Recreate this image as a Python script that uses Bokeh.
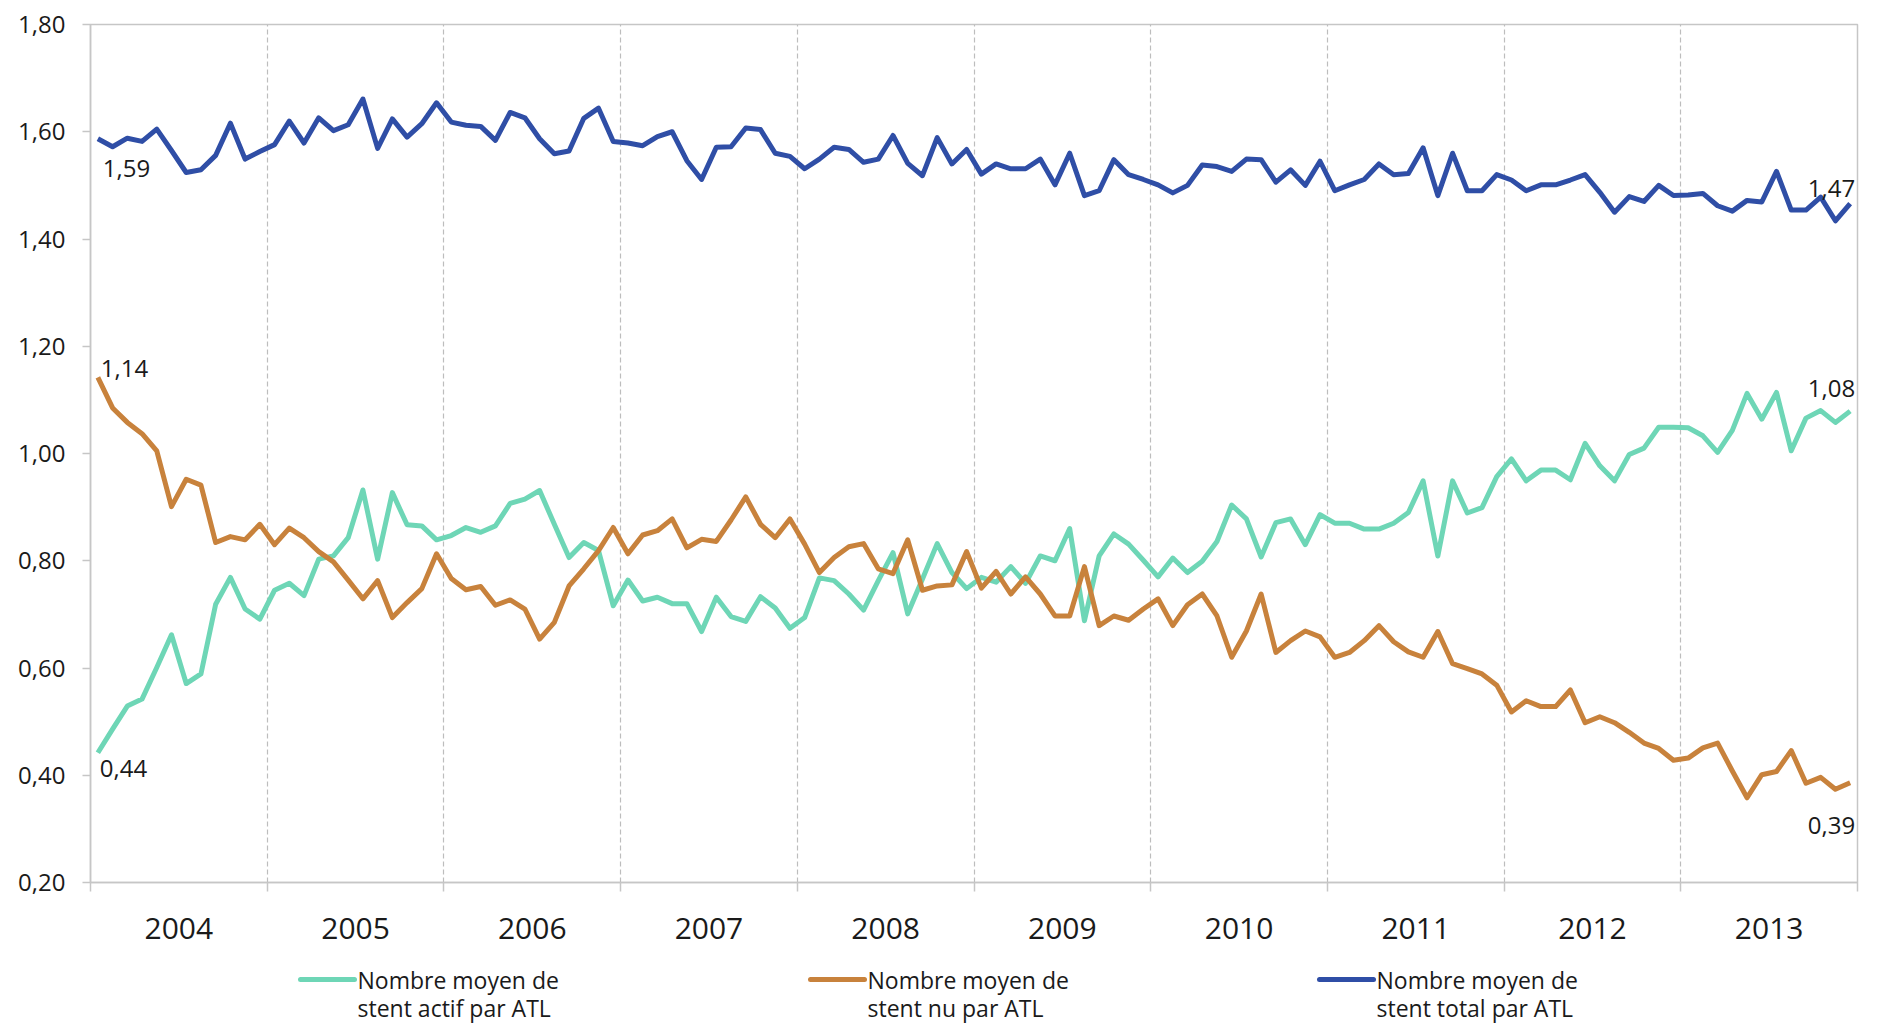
from bokeh.plotting import figure
from bokeh.layouts import column
from bokeh.models import (Range1d, FixedTicker, ColumnDataSource, LabelSet,
                          CustomJSTickFormatter)
from bokeh.core.properties import value
from bokeh.embed import file_html
from bokeh.resources import INLINE

# ---------------- data (monthly, Jan 2004 .. Dec 2013) ----------------
years = ["2004", "2005", "2006", "2007", "2008", "2009", "2010", "2011", "2012", "2013"]
months = list(range(120))

total = [1.587, 1.572, 1.588, 1.582, 1.605, 1.565, 1.524, 1.529, 1.556, 1.616,
         1.549, 1.563, 1.576, 1.620, 1.579, 1.626, 1.602, 1.613, 1.661, 1.569,
         1.624, 1.590, 1.615, 1.654, 1.618, 1.612, 1.610, 1.584, 1.636, 1.626,
         1.587, 1.559, 1.564, 1.625, 1.644, 1.582, 1.579, 1.574, 1.591, 1.600,
         1.546, 1.511, 1.571, 1.572, 1.607, 1.604, 1.560, 1.554, 1.531, 1.549,
         1.571, 1.567, 1.543, 1.549, 1.593, 1.541, 1.518, 1.589, 1.540, 1.567,
         1.521, 1.540, 1.531, 1.531, 1.549, 1.501, 1.560, 1.481, 1.490, 1.548,
         1.520, 1.511, 1.501, 1.486, 1.500, 1.538, 1.535, 1.526, 1.549, 1.548,
         1.506, 1.529, 1.500, 1.545, 1.490, 1.501, 1.511, 1.540, 1.520, 1.522,
         1.570, 1.481, 1.560, 1.490, 1.490, 1.520, 1.510, 1.490, 1.501, 1.501,
         1.510, 1.520, 1.487, 1.450, 1.479, 1.470, 1.500, 1.481, 1.482, 1.485,
         1.462, 1.452, 1.472, 1.469, 1.526, 1.454, 1.454, 1.478, 1.434, 1.466]

nu = [1.142, 1.085, 1.058, 1.037, 1.005, 0.901, 0.952, 0.941, 0.834, 0.845,
      0.839, 0.868, 0.830, 0.861, 0.843, 0.817, 0.798, 0.764, 0.729, 0.763,
      0.694, 0.722, 0.748, 0.813, 0.767, 0.746, 0.752, 0.717, 0.727, 0.710,
      0.654, 0.685, 0.753, 0.785, 0.819, 0.862, 0.813, 0.848, 0.856, 0.878,
      0.824, 0.840, 0.836, 0.876, 0.919, 0.868, 0.843, 0.878, 0.831, 0.778,
      0.806, 0.826, 0.832, 0.785, 0.776, 0.839, 0.745, 0.753, 0.755, 0.817,
      0.749, 0.780, 0.738, 0.770, 0.738, 0.697, 0.697, 0.789, 0.679, 0.697,
      0.689, 0.710, 0.729, 0.679, 0.718, 0.738, 0.697, 0.620, 0.669, 0.738,
      0.629, 0.651, 0.669, 0.658, 0.620, 0.629, 0.651, 0.679, 0.649, 0.630,
      0.620, 0.668, 0.608, 0.599, 0.589, 0.568, 0.518, 0.539, 0.528, 0.528,
      0.559, 0.498, 0.509, 0.498, 0.480, 0.460, 0.450, 0.428, 0.432, 0.451,
      0.460, 0.408, 0.358, 0.401, 0.407, 0.446, 0.385, 0.396, 0.374, 0.386]

actif = [0.442, 0.486, 0.529, 0.542, 0.601, 0.662, 0.571, 0.589, 0.719, 0.769,
         0.710, 0.691, 0.745, 0.758, 0.735, 0.803, 0.809, 0.843, 0.932, 0.803,
         0.927, 0.867, 0.865, 0.839, 0.847, 0.862, 0.853, 0.865, 0.907, 0.915,
         0.931, 0.868, 0.806, 0.834, 0.819, 0.716, 0.764, 0.725, 0.732, 0.720,
         0.720, 0.668, 0.732, 0.696, 0.687, 0.733, 0.712, 0.674, 0.694, 0.768,
         0.763, 0.738, 0.708, 0.763, 0.815, 0.701, 0.766, 0.832, 0.778, 0.748,
         0.769, 0.760, 0.789, 0.758, 0.809, 0.800, 0.860, 0.688, 0.809, 0.850,
         0.831, 0.801, 0.770, 0.805, 0.778, 0.799, 0.836, 0.904, 0.878, 0.807,
         0.871, 0.878, 0.830, 0.886, 0.870, 0.870, 0.859, 0.859, 0.870, 0.890,
         0.949, 0.809, 0.949, 0.889, 0.899, 0.957, 0.990, 0.949, 0.969, 0.969,
         0.951, 1.019, 0.977, 0.949, 0.998, 1.010, 1.049, 1.049, 1.048, 1.033,
         1.002, 1.043, 1.112, 1.064, 1.114, 1.005, 1.066, 1.080, 1.058, 1.079]

y_ticks = [0.2, 0.4, 0.6, 0.8, 1.0, 1.2, 1.4, 1.6, 1.8]
series_names = ["Nombre moyen de\nstent actif par ATL",
                "Nombre moyen de\nstent nu par ATL",
                "Nombre moyen de\nstent total par ATL"]

# ---------------- styling ----------------
FONT = "Open Sans"
TXT = "#1A1A1A"
GREY = "#C6C6C6"
C_ACTIF = "#6ED6B6"
C_NU = "#C8823C"
C_TOTAL = "#2F4EA6"
series_colors = [C_ACTIF, C_NU, C_TOTAL]

n = len(months)
year_centers = [12 * k + 5.5 for k in range(len(years))]
year_bounds = [12 * k - 0.5 for k in range(len(years) + 1)]

BL, BR = 90, 23   # left / right borders (px), shared by both strips

p = figure(width=1880, height=954,
           x_range=Range1d(-0.5, n - 0.5), y_range=Range1d(0.2, 1.8),
           output_backend="svg", toolbar_location=None,
           min_border_left=BL, min_border_right=BR, min_border_top=24,
           min_border_bottom=72)
p.outline_line_color = GREY
p.outline_line_width = 1.5
p.background_fill_color = "white"
p.border_fill_color = "white"

# y axis
p.yaxis.ticker = FixedTicker(ticks=y_ticks)
p.yaxis.formatter = CustomJSTickFormatter(code="return tick.toFixed(2).replace('.', ',');")
p.yaxis.major_tick_out = 8
p.yaxis.major_tick_in = 0
p.yaxis.minor_tick_out = 0
p.yaxis.minor_tick_in = 0
p.yaxis.axis_line_color = GREY
p.yaxis.axis_line_width = 1.5
p.yaxis.major_tick_line_color = GREY
p.yaxis.major_tick_line_width = 1.5
p.yaxis.major_label_text_font = FONT
p.yaxis.major_label_text_font_size = "24px"
p.yaxis.major_label_text_color = TXT
p.yaxis.major_label_standoff = 17

# x axis: labels at year centres, ticks at year bounds
p.xaxis.ticker = FixedTicker(ticks=year_centers, minor_ticks=year_bounds)
p.xaxis.major_label_overrides = {c: y for c, y in zip(year_centers, years)}
p.xaxis.major_tick_out = 0
p.xaxis.major_tick_in = 0
p.xaxis.minor_tick_out = 9
p.xaxis.minor_tick_in = 0
p.xaxis.minor_tick_line_color = GREY
p.xaxis.minor_tick_line_width = 1.5
p.xaxis.axis_line_color = GREY
p.xaxis.axis_line_width = 1.5
p.xaxis.major_label_text_font = FONT
p.xaxis.major_label_text_font_size = "30px"
p.xaxis.major_label_text_color = TXT
p.xaxis.major_label_standoff = 26

# grids
p.ygrid.visible = False
p.xgrid.ticker = FixedTicker(ticks=year_bounds[1:-1])
p.xgrid.grid_line_color = "#BDBDBD"
p.xgrid.grid_line_dash = "5 3"
p.xgrid.grid_line_width = 1.2

# lines
p.line(months, actif, line_color=C_ACTIF, line_width=5, line_join="round")
p.line(months, nu, line_color=C_NU, line_width=5, line_join="round")
p.line(months, total, line_color=C_TOTAL, line_width=5, line_join="round")

# data labels
def fmt(v):
    return f"{v:.2f}".replace(".", ",")

left_src = ColumnDataSource(dict(
    x=[months[0]] * 3,
    y=[total[0], nu[0], actif[0]],
    text=[fmt(total[0]), fmt(nu[0]), fmt(actif[0])],
    xo=[5, 3, 2],
    yo=[-30, 9, -16],
))
right_src = ColumnDataSource(dict(
    x=[months[-1]] * 3,
    y=[total[-1], actif[-1], nu[-1]],
    text=[fmt(total[-1]), fmt(actif[-1]), fmt(nu[-1])],
    xo=[5, 5, 5],
    yo=[15, 23, -43],
))
p.add_layout(LabelSet(x="x", y="y", text="text", source=left_src,
                      x_offset="xo", y_offset="yo", text_align="left",
                      text_baseline="middle", text_font=value(FONT),
                      text_font_size="24px", text_color=TXT))
p.add_layout(LabelSet(x="x", y="y", text="text", source=right_src,
                      x_offset="xo", y_offset="yo", text_align="right",
                      text_baseline="middle", text_font=value(FONT),
                      text_font_size="24px", text_color=TXT))

# ---------------- legend strip below the chart ----------------
LEG_H = 72
leg_x = [300, 810, 1319]          # page x of the left end of each legend sample
LINE1_Y, LINE2_Y = 25, 53         # px from top of the strip
leg = figure(width=1880, height=LEG_H, x_range=Range1d(BL, 1880 - BR),
             y_range=Range1d(LEG_H, 0), output_backend="svg",
             toolbar_location=None, x_axis_type=None, y_axis_type=None,
             min_border_left=BL, min_border_right=BR,
             min_border_top=0, min_border_bottom=0)
leg.outline_line_color = None
leg.grid.visible = False
leg.background_fill_color = "white"
leg.border_fill_color = "white"

first_lines = [s.split("\n")[0] for s in series_names]
second_lines = [s.split("\n")[1] for s in series_names]
leg.segment(x0=leg_x, y0=[LINE1_Y] * 3, x1=[x + 54 for x in leg_x], y1=[LINE1_Y] * 3,
            line_color=series_colors, line_width=5, line_cap="round")
leg.text(x=[x + 57 for x in leg_x], y=[LINE1_Y] * 3, text=first_lines,
         text_baseline="middle", text_align="left", text_font=value(FONT),
         text_font_size="23px", text_color=TXT)
leg.text(x=[x + 57 for x in leg_x], y=[LINE2_Y] * 3, text=second_lines,
         text_baseline="middle", text_align="left", text_font=value(FONT),
         text_font_size="23px", text_color=TXT)

layout = column(p, leg, spacing=0)
open("out.html", "w").write(file_html(layout, INLINE))
